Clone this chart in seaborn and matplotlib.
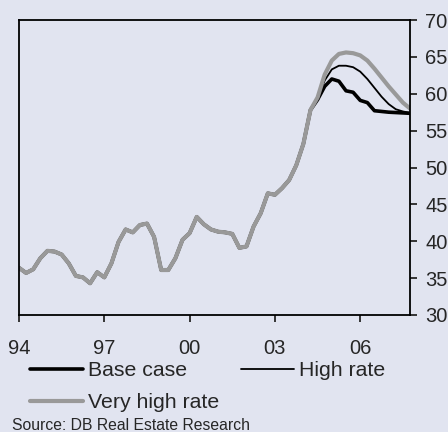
import numpy as np
import pandas as pd
import seaborn as sns
import matplotlib.pyplot as plt
from matplotlib.lines import Line2D

# quarterly values, 1994Q1 onwards
history = [36.4, 35.7, 36.2, 37.7, 38.7, 38.6, 38.2, 37.0, 35.3, 35.1, 34.3, 35.8,
           35.1, 37.0, 39.9, 41.6, 41.2, 42.2, 42.4, 40.6, 36.1, 36.1, 37.7, 40.2,
           41.1, 43.3, 42.3, 41.6, 41.3, 41.2, 41.0, 39.1, 39.3, 42.0, 43.8, 46.5,
           46.3, 47.2, 48.3, 50.3, 53.2, 57.8]
base_case = [59.2, 61.0, 62.0, 61.7, 60.4, 60.2, 59.1, 58.8, 57.7, 57.6, 57.5, 57.45, 57.4, 57.35]
high_rate = [59.3, 61.8, 63.3, 63.8, 63.8, 63.6, 63.0, 62.0, 60.8, 59.6, 58.6, 57.9, 57.6, 57.4]
very_high_rate = [59.5, 62.6, 64.5, 65.4, 65.6, 65.5, 65.2, 64.5, 63.4, 62.2, 61.0, 59.9, 58.8, 58.0]

xticks = [1994, 1997, 2000, 2003, 2006]
xtick_labels = ["94", "97", "00", "03", "06"]
yticks = [30, 35, 40, 45, 50, 55, 60, 65, 70]

bg = "#e1e4f0"
sns.set_style("white", {"axes.facecolor": bg, "figure.facecolor": bg})
plt.rcParams["font.family"] = ["Liberation Sans", "DejaVu Sans"]


def series_df(values, name):
    full = history + values
    return pd.DataFrame({"date": 1994 + np.arange(len(full)) / 4.0,
                         "value": full, "series": name})


df_base = series_df(base_case, "Base case")
df_high = series_df(high_rate, "High rate")
df_vhigh = series_df(very_high_rate, "Very high rate")

fig = plt.figure(figsize=(4.48, 4.32), dpi=100)
ax = fig.add_axes([19 / 448, 1 - 315 / 432, (410 - 19) / 448, (315 - 20) / 432])

sns.lineplot(data=df_base, x="date", y="value", color="black", linewidth=2.6, ax=ax)
sns.lineplot(data=df_high, x="date", y="value", color="black", linewidth=1.3, ax=ax)
sns.lineplot(data=df_vhigh, x="date", y="value", color="#999999", linewidth=3.0, ax=ax)

ax.set_xlim(1994, 2007.75)
ax.set_ylim(30, 70)
ax.set_xticks(xticks)
ax.set_xticklabels(xtick_labels)
ax.set_yticks(yticks)
ax.yaxis.tick_right()
ax.set_xlabel("")
ax.set_ylabel("")
for s in ax.spines.values():
    s.set_visible(True)
    s.set_color("black")
    s.set_linewidth(1.3)
ax.tick_params(axis="x", direction="out", length=5, width=1.3, pad=12, labelsize=14.5, bottom=True)
ax.tick_params(axis="y", direction="out", length=5, width=1.3, pad=6, labelsize=14.5,
               right=True, left=False)

handles = [Line2D([], [], color="black", linewidth=2.6),
           Line2D([], [], color="#999999", linewidth=3.0),
           Line2D([], [], color="black", linewidth=1.3)]
labels = ["Base case", "Very high rate", "High rate"]
fig.legend(handles, labels, ncol=2, loc="upper left", bbox_to_anchor=(30 / 448, 1 - 361 / 432),
           frameon=False, fontsize=15.3, handlelength=2.5, handletextpad=0.24,
           columnspacing=1.0, labelspacing=0.62, borderpad=0, borderaxespad=0)

fig.text(12 / 448, 1 - 426 / 432, "Source: DB Real Estate Research", fontsize=11.3, va="center")

fig.savefig("out.png", dpi=100, facecolor=bg)
